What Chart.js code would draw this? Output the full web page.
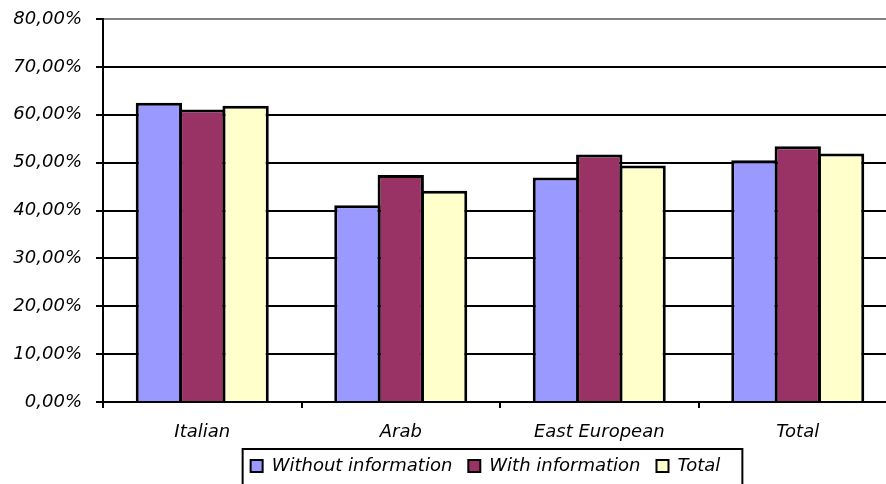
<!DOCTYPE html>
<html>
<head>
<meta charset="utf-8">
<script src="https://cdn.jsdelivr.net/npm/chart.js@4/dist/chart.umd.min.js"></script>
<style>
  html, body { margin: 0; padding: 0; background: #fff; overflow: hidden; }
  #wrap { width: 886px; height: 484px; overflow: hidden; position: relative; }
  canvas { display: block; }
</style>
</head>
<body>
<div id="wrap"><canvas id="c" width="920" height="485"></canvas></div>
<script>
// Share of respondents by group (percent)
const categories = ['Italian', 'Arab', 'East European', 'Total'];
const withoutInfo = [62.5, 41.1, 46.9, 50.5];
const withInfo    = [61.1, 47.4, 51.7, 53.4];
const totalShare  = [61.9, 44.1, 49.4, 51.9];
const seriesNames = ['Without information', 'With information', 'Total'];
const seriesColors = ['#9999FF', '#993366', '#FFFFCC'];
const yMax = 80, yStep = 10;

Chart.defaults.font.family = "'DejaVu Sans', sans-serif";
Chart.defaults.font.style = 'italic';
Chart.defaults.font.size = 18;
Chart.defaults.color = '#000';

// Legend placement and the framed box around its items
const legendFrame = {
  id: 'legendFrame',
  afterLayout(chart) {
    const lg = chart.legend;
    lg.left += 37;
    lg.right += 37;
  },
  afterDraw(chart) {
    const lg = chart.legend;
    const hb = lg.legendHitBoxes;
    if (!hb || !hb.length) return;
    const last = hb[hb.length - 1];
    const x0 = hb[0].left - 8;
    const x1 = last.left + last.width + 22;
    const y0 = lg.top + 8;
    const ctx = chart.ctx;
    ctx.save();
    ctx.strokeStyle = '#000';
    ctx.lineWidth = 2;
    ctx.strokeRect(x0, y0, x1 - x0, 60);
    ctx.restore();
  }
};

const datasets = [withoutInfo, withInfo, totalShare].map((vals, i) => ({
  label: seriesNames[i],
  data: vals,
  backgroundColor: seriesColors[i],
  borderColor: '#000',
  borderWidth: 3,
  borderSkipped: 'start',
  barPercentage: 1.069,
  categoryPercentage: 0.655
}));

new Chart(document.getElementById('c'), {
  type: 'bar',
  data: { labels: categories, datasets },
  options: {
    responsive: false,
    devicePixelRatio: 1,
    animation: false,
    layout: { padding: { top: 19, left: 0, right: 23, bottom: 0 } },
    plugins: {
      tooltip: { enabled: false },
      legend: {
        position: 'bottom',
        labels: {
          boxWidth: 12,
          boxHeight: 12,
          padding: 16,
          color: '#000',
          generateLabels(chart) {
            return chart.data.datasets.map((ds, i) => ({
              text: ds.label,
              fillStyle: ds.backgroundColor,
              strokeStyle: '#000',
              lineWidth: 2,
              datasetIndex: i,
              hidden: false
            }));
          }
        }
      }
    },
    scales: {
      x: {
        afterFit(scale) { scale.height = 39; },
        border: { display: true, color: '#000', width: 2 },
        grid: {
          offset: true,
          drawOnChartArea: false,
          drawTicks: true,
          tickLength: 6,
          color: '#000',
          lineWidth: 2
        },
        ticks: { padding: 14, color: '#000', maxRotation: 0 }
      },
      y: {
        min: 0,
        max: yMax,
        afterFit(scale) {
          scale.width = 103;
          scale.paddingTop = 0;
          scale.paddingBottom = 0;
        },
        border: { display: true, color: '#000', width: 2 },
        grid: {
          color: (c) => (c.tick && c.tick.value === yMax ? '#808080' : '#000'),
          tickColor: '#000',
          lineWidth: 2,
          tickLength: 7,
          drawTicks: true
        },
        ticks: {
          stepSize: yStep,
          padding: 14,
          color: '#000',
          callback: (v) => v.toFixed(2).replace('.', ',') + '%'
        }
      }
    }
  },
  plugins: [legendFrame]
});
</script>
</body>
</html>
